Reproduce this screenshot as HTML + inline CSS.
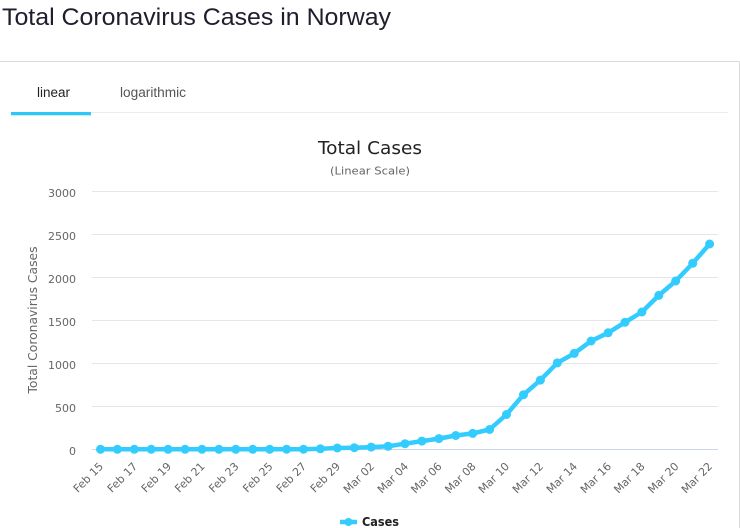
<!DOCTYPE html>
<html>
<head>
<meta charset="utf-8">
<style>
html,body{margin:0;padding:0;background:#fff;}
body{width:740px;height:528px;overflow:hidden;}
svg{display:block;}
</style>
</head>
<body>
<svg width="740" height="528" viewBox="0 0 740 528" xmlns="http://www.w3.org/2000/svg">
  <!-- Page title -->
  <text x="2" y="25" font-family="Liberation Sans, Arial, sans-serif" font-size="24" fill="#1e1e2e" textLength="389" lengthAdjust="spacingAndGlyphs">Total Coronavirus Cases in Norway</text>

  <!-- Panel borders -->
  <line x1="0" y1="61.5" x2="739.5" y2="61.5" stroke="#d9d9d9" stroke-width="1"/>
  <line x1="739.5" y1="61.5" x2="739.5" y2="528" stroke="#d9d9d9" stroke-width="1"/>

  <!-- Tabs -->
  <text x="37" y="97" font-family="Liberation Sans, Arial, sans-serif" font-size="13.5" fill="#222" textLength="33" lengthAdjust="spacingAndGlyphs">linear</text>
  <text x="120" y="97" font-family="Liberation Sans, Arial, sans-serif" font-size="13.5" fill="#555" textLength="66" lengthAdjust="spacingAndGlyphs">logarithmic</text>
  <line x1="11" y1="112.5" x2="728" y2="112.5" stroke="#ececec" stroke-width="1"/>
  <rect x="11" y="112" width="80" height="3.3" fill="#2ec8f6"/>

  <!-- Chart title -->
  <text x="370" y="154" text-anchor="middle" font-family="DejaVu Sans, Verdana, sans-serif" font-size="18" fill="#222" textLength="104" lengthAdjust="spacingAndGlyphs">Total Cases</text>
  <text x="370" y="174.5" text-anchor="middle" font-family="DejaVu Sans, Verdana, sans-serif" font-size="11" fill="#666" textLength="80" lengthAdjust="spacingAndGlyphs">(Linear Scale)</text>

  <!-- Gridlines -->
  <g stroke="#e6e6e6" stroke-width="1">
    <line x1="92" y1="191.5" x2="718" y2="191.5"/>
    <line x1="92" y1="234.5" x2="718" y2="234.5"/>
    <line x1="92" y1="277.5" x2="718" y2="277.5"/>
    <line x1="92" y1="320.5" x2="718" y2="320.5"/>
    <line x1="92" y1="363.5" x2="718" y2="363.5"/>
    <line x1="92" y1="406.5" x2="718" y2="406.5"/>
  </g>
  <line x1="92" y1="449.5" x2="718" y2="449.5" stroke="#ccd6eb" stroke-width="1"/>

  <!-- Y labels -->
  <g font-family="DejaVu Sans, Verdana, sans-serif" font-size="11" fill="#666" text-anchor="end">
    <text x="76" y="197">3000</text>
    <text x="76" y="240">2500</text>
    <text x="76" y="283">2000</text>
    <text x="76" y="326">1500</text>
    <text x="76" y="369">1000</text>
    <text x="76" y="412">500</text>
    <text x="76" y="455">0</text>
  </g>

  <!-- Y axis title -->
  <text transform="translate(37,320) rotate(-90)" text-anchor="middle" font-family="DejaVu Sans, Verdana, sans-serif" font-size="12" fill="#666" textLength="147" lengthAdjust="spacingAndGlyphs">Total Coronavirus Cases</text>

  <!-- X labels -->
  <g font-family="DejaVu Sans, Verdana, sans-serif" font-size="11" fill="#666" text-anchor="end">
    <text transform="translate(104,467) rotate(-45)">Feb 15</text>
    <text transform="translate(138,467) rotate(-45)">Feb 17</text>
    <text transform="translate(172,467) rotate(-45)">Feb 19</text>
    <text transform="translate(205.5,467) rotate(-45)">Feb 21</text>
    <text transform="translate(239.5,467) rotate(-45)">Feb 23</text>
    <text transform="translate(273.5,467) rotate(-45)">Feb 25</text>
    <text transform="translate(307,467) rotate(-45)">Feb 27</text>
    <text transform="translate(341,467) rotate(-45)">Feb 29</text>
    <text transform="translate(375,467) rotate(-45)">Mar 02</text>
    <text transform="translate(409,467) rotate(-45)">Mar 04</text>
    <text transform="translate(442.5,467) rotate(-45)">Mar 06</text>
    <text transform="translate(476.5,467) rotate(-45)">Mar 08</text>
    <text transform="translate(510,467) rotate(-45)">Mar 10</text>
    <text transform="translate(544,467) rotate(-45)">Mar 12</text>
    <text transform="translate(578,467) rotate(-45)">Mar 14</text>
    <text transform="translate(612,467) rotate(-45)">Mar 16</text>
    <text transform="translate(645.5,467) rotate(-45)">Mar 18</text>
    <text transform="translate(679.5,467) rotate(-45)">Mar 20</text>
    <text transform="translate(713,467) rotate(-45)">Mar 22</text>
  </g>

  <!-- Series -->
  <polyline fill="none" stroke="#33ccff" stroke-width="4.5" stroke-linejoin="round" stroke-linecap="round"
    points="100.5,449.3 117.4,449.3 134.3,449.3 151.2,449.3 168.1,449.3 185.1,449.3 202.0,449.3 218.9,449.3 235.8,449.3 252.7,449.3 269.7,449.3 286.6,449.2 303.5,449.2 320.4,448.8 337.3,448.0 354.3,447.7 371.2,447.1 388.1,446.3 405.0,443.7 421.9,441.1 438.9,438.6 455.8,435.5 472.7,433.4 489.6,429.5 506.5,414.5 523.5,394.7 540.4,380.1 557.3,362.9 574.2,353.4 591.1,341.0 608.1,332.8 625.0,322.3 641.9,312.0 658.8,295.4 675.7,281.0 692.7,263.3 709.6,244.0"/>
  <g fill="#33ccff">
    <circle cx="100.5" cy="449.3" r="4.5"/>
    <circle cx="117.4" cy="449.3" r="4.5"/>
    <circle cx="134.3" cy="449.3" r="4.5"/>
    <circle cx="151.2" cy="449.3" r="4.5"/>
    <circle cx="168.1" cy="449.3" r="4.5"/>
    <circle cx="185.1" cy="449.3" r="4.5"/>
    <circle cx="202.0" cy="449.3" r="4.5"/>
    <circle cx="218.9" cy="449.3" r="4.5"/>
    <circle cx="235.8" cy="449.3" r="4.5"/>
    <circle cx="252.7" cy="449.3" r="4.5"/>
    <circle cx="269.7" cy="449.3" r="4.5"/>
    <circle cx="286.6" cy="449.2" r="4.5"/>
    <circle cx="303.5" cy="449.2" r="4.5"/>
    <circle cx="320.4" cy="448.8" r="4.5"/>
    <circle cx="337.3" cy="448.0" r="4.5"/>
    <circle cx="354.3" cy="447.7" r="4.5"/>
    <circle cx="371.2" cy="447.1" r="4.5"/>
    <circle cx="388.1" cy="446.3" r="4.5"/>
    <circle cx="405.0" cy="443.7" r="4.5"/>
    <circle cx="421.9" cy="441.1" r="4.5"/>
    <circle cx="438.9" cy="438.6" r="4.5"/>
    <circle cx="455.8" cy="435.5" r="4.5"/>
    <circle cx="472.7" cy="433.4" r="4.5"/>
    <circle cx="489.6" cy="429.5" r="4.5"/>
    <circle cx="506.5" cy="414.5" r="4.5"/>
    <circle cx="523.5" cy="394.7" r="4.5"/>
    <circle cx="540.4" cy="380.1" r="4.5"/>
    <circle cx="557.3" cy="362.9" r="4.5"/>
    <circle cx="574.2" cy="353.4" r="4.5"/>
    <circle cx="591.1" cy="341.0" r="4.5"/>
    <circle cx="608.1" cy="332.8" r="4.5"/>
    <circle cx="625.0" cy="322.3" r="4.5"/>
    <circle cx="641.9" cy="312.0" r="4.5"/>
    <circle cx="658.8" cy="295.4" r="4.5"/>
    <circle cx="675.7" cy="281.0" r="4.5"/>
    <circle cx="692.7" cy="263.3" r="4.5"/>
    <circle cx="709.6" cy="244.0" r="4.5"/>
  </g>

  <!-- Legend -->
  <line x1="340" y1="522" x2="357" y2="522" stroke="#33ccff" stroke-width="4.5"/>
  <circle cx="348.5" cy="522" r="4" fill="#33ccff"/>
  <text x="362" y="526" font-family="DejaVu Sans, Verdana, sans-serif" font-size="12" font-weight="bold" fill="#222" textLength="37" lengthAdjust="spacingAndGlyphs">Cases</text>
</svg>
</body>
</html>
